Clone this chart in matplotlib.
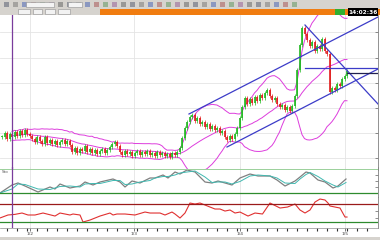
import matplotlib
matplotlib.use("Agg")
import matplotlib.pyplot as plt
import numpy as np
import pandas as pd
from matplotlib.patches import Rectangle


W, H = 380, 240

# closes per bar (price units)
closes = [
    33, 37, 31, 36, 33, 38, 34, 39, 35, 40, 36, 34,
    31, 28, 33, 29, 26, 33, 27, 30, 26, 29, 25, 28, 30, 26, 29, 25,
    18, 22, 17, 21, 19, 24, 18, 21, 17, 20, 16, 19, 21, 17, 20, 23, 26, 28, 24,
    18, 15, 19, 16, 18, 14, 17, 19, 15, 18, 16, 19, 15, 17, 14, 18, 15, 17, 14, 16, 13, 17, 15, 18,
    22, 32, 42, 48, 53,
    55, 49, 52, 46, 48, 43, 46, 41, 44, 40, 42, 37, 39, 33, 30, 34,
    31, 36, 42, 52, 63, 72, 66, 71, 67, 73, 69, 75, 72,
    77, 80, 74, 70, 72, 66, 63, 65, 60, 63, 59,
    64, 74, 100, 125, 142, 136,
    130, 124, 128, 119, 124, 121, 131, 119, 116,
    78,
    82, 80, 86, 84, 91, 94, 99,
]

# stochastic-like oscillator (bar index, value)
osc_bars = [-0.8, 4, 6.4, 9.2, 14.4, 19.2, 21.2, 23.2, 27.2, 31.2, 33.2, 36.4,
            39.2, 44.4, 47.2, 49.2, 52, 55.2, 59.2, 61.2, 64.4, 66.4, 69.2, 71.2,
            74, 77.2, 81.2, 84, 86.4, 89.2, 92, 95.2, 99.2, 102.4, 107.2, 110,
            113.2, 117.2, 119.2, 121.6, 123.2, 126.4, 129.2, 132.4, 134.4, 137.6]
osc_vals = [20, 40, 45, 37.5, 22.5, 35, 30, 42.5, 32.5, 37.5, 47.5, 40,
            47.5, 55, 47.5, 35, 50, 45, 57.5, 57.5, 65, 57.5, 72.5, 67.5,
            77.5, 72.5, 47.5, 45, 50, 45, 40, 57.5, 67.5, 62.5, 62.5, 52.5,
            37.5, 50, 60, 72.5, 70, 52.5, 47.5, 32.5, 37.5, 55]

# rsi-like line (bar index, value)
rsi_bars = [-0.8, 2.4, 5.2, 8, 10.4, 13.2, 16.4, 21.2, 23.2, 27.2, 28.4, 31.2,
            32.4, 35.2, 39.2, 43.2, 44.4, 46, 49.2, 53.2, 57.2, 59.2, 63.2, 65.2,
            68, 69.2, 71.2, 73.2, 75.2, 77.2, 79.2, 81.2, 83.2, 85.2, 87.2, 89.2,
            91.2, 93.2, 95.2, 98.4, 101.2, 104.2, 107.2, 111.2, 114.2, 117.2, 119.2,
            121.2, 123.2, 125.2, 127.2, 129.2, 130.4, 131.2, 133.2, 135.2, 137.2, 138]
rsi_vals = [39, 45.6, 47, 50, 45.6, 45.6, 50, 43.3, 50, 45.6, 47.8, 45.6,
            30, 34.4, 43.3, 50, 45.6, 47.8, 47.8, 45.6, 52.2, 50, 50, 45.6,
            52.2, 47.8, 38.9, 50, 72.2, 70, 72.2, 67.8, 63.3, 58.9, 58.9, 54.4,
            56.7, 50, 52.2, 43.3, 50, 47.8, 72.2, 61.1, 63.3, 70, 56.7,
            50, 56.7, 74.4, 81.1, 78.9, 72.2, 65.6, 63.3, 61.1, 41.1, 41.1]

# drawn trend lines: ((bar, price), (bar, price))
channel_lines = [((74.8, 56), (150.4, 153)), ((90, 23), (150.4, 101)),
                 ((121.2, 145), (150.4, 66)), ((121.2, 102), (150.4, 102))]
pivot_line = ((138, 97), (150.4, 97))

day_breaks = [11.2, 52.8, 95.2, 137.2]
day_labels = ["1/2", "1/3", "1/4", "1/5"]
marker_bar = 4
price_grid = [12, 37, 62, 87, 112, 138]
clock_text = "14:02:36"

GREEN = "#1fb81f"
RED = "#e01b1b"
BAND = "#dd3ddd"
TREND = "#3c3cc8"
GRID = "#e4e4e4"


def box(x0, y0, x1, y1):
    return [x0 / W, 1 - y1 / H, (x1 - x0) / W, (y1 - y0) / H]


def fig_rect(x0, y0, wd, ht, **kw):
    fig.patches.append(Rectangle((x0 / W, 1 - (y0 + ht) / H), wd / W, ht / H,
                                 transform=fig.transFigure, **kw))


fig = plt.figure(figsize=(W / 100, H / 100), dpi=100)
fig.patch.set_facecolor("white")

# toolbar and tab strip
fig_rect(0, 0, W, 15, facecolor="#d6d3ce", edgecolor="none")
fig_rect(100, 9, 280, 6, facecolor="#f07c10", edgecolor="none")
icon_cols = ["#404860", "#6a6a6a", "#3050b0", "#a04040", "#4a8a4a", "#8a4a8a", "#505050"]
for i, px in enumerate(range(4, 300, 9)):
    fig_rect(px, 2, 5, 5, facecolor=icon_cols[i % len(icon_cols)], edgecolor="none", alpha=0.45)
fig_rect(26, 2, 28, 5, facecolor="#f4f4f4", edgecolor="#909090", linewidth=0.4)
fig_rect(68, 2, 14, 5, facecolor="#f4f4f4", edgecolor="#909090", linewidth=0.4)
for px, wd in [(18, 12), (33, 9), (45, 10), (58, 12)]:
    fig_rect(px, 9, wd, 5, facecolor="#f2f2f2", edgecolor="#909090", linewidth=0.4)
fig_rect(335, 9.5, 10, 5, facecolor="#30b030", edgecolor="none")
fig_rect(348, 8.5, 30, 7, facecolor="black", edgecolor="none")
fig.text(363 / W, 1 - 12 / H, clock_text, color="white", fontsize=4.2,
         ha="center", va="center", weight="bold")
fig_rect(0, 236.5, W, 3.5, facecolor="#d6d3ce", edgecolor="none")

# ---- price panel
ax = fig.add_axes(box(0, 15, 378, 170))
x = np.arange(len(closes))
c = np.array(closes, dtype=float)
o = np.r_[c[0], c[:-1]]
lo = np.minimum(o, c)
hi = np.maximum(o, c)
cols = np.where(c >= o, GREEN, RED)
ax.vlines(x, lo - 2, hi + 2, colors=cols, linewidth=0.5, zorder=3)
ax.vlines(x, lo, np.maximum(hi, lo + 1), colors=cols, linewidth=1.2, zorder=3)

s = pd.Series(c)
mid = s.rolling(20, min_periods=5).mean()
sd = s.rolling(20, min_periods=5).std(ddof=0)
for line in (mid + 2 * sd, mid, mid - 2 * sd):
    ax.plot(x, line, color=BAND, linewidth=0.7, zorder=2)

for (x0, y0), (x1, y1) in channel_lines:
    ax.plot([x0, x1], [y0, y1], color=TREND, linewidth=0.9, zorder=4)
ax.plot([pivot_line[0][0], pivot_line[1][0]], [pivot_line[0][1], pivot_line[1][1]],
        color="#202050", linewidth=0.9, zorder=4)

ax.set_xlim(-0.8, 150.4)
ax.set_ylim(0, 155)
ax.set_yticks(price_grid)
ax.set_xticks(day_breaks)
ax.grid(True, color=GRID, linewidth=0.6)
ax.set_axisbelow(True)

# ---- oscillator panel
ax2 = fig.add_axes(box(0, 167, 378, 197))
ax2.patch.set_alpha(0)
ax2.plot(osc_bars, osc_vals, color="#808080", linewidth=0.9)
ax2.plot(osc_bars, pd.Series(osc_vals).rolling(2, min_periods=1).mean(),
         color="#3fb8b0", linewidth=0.7)
ax2.axhline(80, color="#9ad09a", linewidth=0.7)
ax2.axhline(20, color="#2e8b2e", linewidth=0.9)
ax2.set_xlim(-0.8, 150.4)
ax2.set_ylim(10, 85)
ax2.set_yticks([35, 50, 65])
ax2.set_xticks(day_breaks)
ax2.grid(True, axis="x", color=GRID, linewidth=0.6)
ax2.text(0.005, 0.8, "Sto", transform=ax2.transAxes, fontsize=3, color="#555555")

# ---- rsi panel
ax3 = fig.add_axes(box(0, 197, 378, 228))
ax3.plot(rsi_bars, rsi_vals, color="#e03030", linewidth=0.8)
ax3.axhline(70, color="#9a1a1a", linewidth=0.9)
ax3.axhline(30, color="#2e8b2e", linewidth=0.9)
ax3.set_xlim(-0.8, 150.4)
ax3.set_ylim(16.7, 85.6)
ax3.set_yticks([40, 55])
ax3.set_xticks(day_breaks)
ax3.set_xticklabels(day_labels)
ax3.set_xticks(np.arange(2, 150, 4), minor=True)
ax3.grid(True, axis="x", color=GRID, linewidth=0.6)

for a in (ax, ax2, ax3):
    a.axvline(marker_bar, color="#7a3c9c", linewidth=0.9, zorder=5)
    for sp in ("left", "top", "bottom"):
        a.spines[sp].set_visible(False)
    a.spines["right"].set_color("#808080")
    a.spines["right"].set_linewidth(0.6)
    a.yaxis.tick_right()
    a.tick_params(axis="y", direction="in", length=2, width=0.5, labelright=False,
                  colors="#606060")
    a.tick_params(axis="x", length=0, labelbottom=False)

ax3.spines["bottom"].set_visible(True)
ax3.spines["bottom"].set_color("#909090")
ax3.spines["bottom"].set_linewidth(0.5)
ax3.tick_params(axis="x", which="major", length=2, width=0.5, labelbottom=True,
                labelsize=3.2, pad=1, colors="#404040")
ax3.tick_params(axis="x", which="minor", length=2, width=0.8, colors="#303030")

fig.savefig("out.png", dpi=100)
